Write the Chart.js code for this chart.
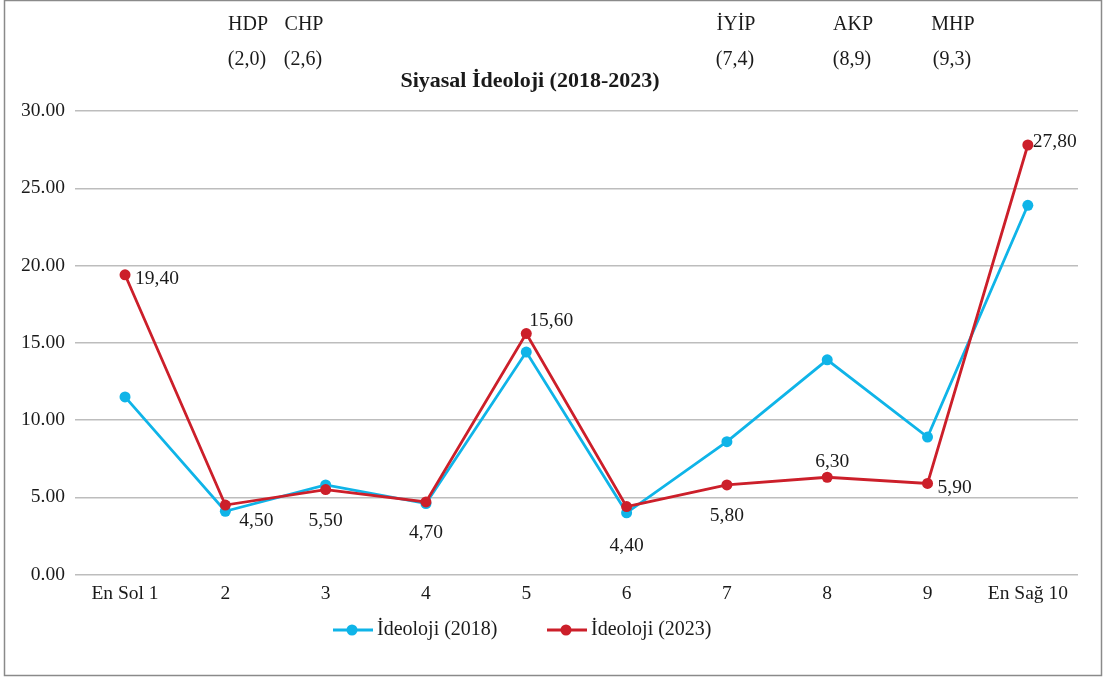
<!DOCTYPE html>
<html>
<head>
<meta charset="utf-8">
<script src="https://cdn.jsdelivr.net/npm/chart.js@4"></script>
<style>
  html, body { margin: 0; padding: 0; background: #fff; }
  #wrap { width: 1103px; height: 677px; position: relative; }
</style>
</head>
<body>
<div id="wrap"><canvas id="ideoloji"></canvas></div>
<script>
// veriler
const categories = ['En Sol 1', '2', '3', '4', '5', '6', '7', '8', '9', 'En Sağ 10'];
const ideoloji2018 = [11.5, 4.1, 5.8, 4.6, 14.4, 4.0, 8.6, 13.9, 8.9, 23.9];
const ideoloji2023 = [19.4, 4.5, 5.5, 4.7, 15.6, 4.4, 5.8, 6.3, 5.9, 27.8];
const seriesNames = ['İdeoloji (2018)', 'İdeoloji (2023)'];
const partyNames = ['HDP', 'CHP', 'İYİP', 'AKP', 'MHP'];
const partyScores = ['(2,0)', '(2,6)', '(7,4)', '(8,9)', '(9,3)'];
const chartTitle = 'Siyasal İdeoloji (2018-2023)';

const BLUE = '#0fb4e8';
const RED = '#cc1f2a';
const FONT = '"Liberation Serif", "DejaVu Serif", serif';

// where each 2023 label sits relative to its point
const labelPlace = ['right', 'belowRight', 'below', 'below', 'aboveRight', 'below', 'below', 'above', 'right', 'right'];
const partyX = [248, 304, 736, 853, 953];

const extras = {
    id: 'extras',
    beforeDraw(chart) {
        const c = chart.ctx;
        c.save();
        c.strokeStyle = '#8a8a8a';
        c.lineWidth = 1.5;
        c.strokeRect(4.5, 0.5, 1097, 675);
        c.restore();
    },
    afterDraw(chart) {
        const c = chart.ctx;
        c.save();
        c.fillStyle = '#1a1a1a';
        c.textAlign = 'center';
        c.textBaseline = 'middle';
        c.font = '20px ' + FONT;
        partyNames.forEach((p, i) => {
            c.fillText(p, partyX[i], 25);
            c.fillText(partyScores[i], partyX[i] - 1, 60);
        });
        c.font = 'bold 22px ' + FONT;
        c.fillText(chartTitle, 530, 81);

        // etiketler (2023)
        const meta = chart.getDatasetMeta(1);
        c.font = '19.5px ' + FONT;
        meta.data.forEach((pt, i) => {
            const txt = ideoloji2023[i].toFixed(2).replace('.', ',');
            const pl = labelPlace[i];
            let x = pt.x, y = pt.y;
            if (pl === 'right') { c.textAlign = 'left'; x += 10; y += 4; }
            else if (pl === 'belowRight') { c.textAlign = 'left'; x += 14; y += 16; }
            else if (pl === 'below') { c.textAlign = 'center'; y += 31; }
            else if (pl === 'aboveRight') { c.textAlign = 'left'; x += 3; y -= 13; }
            else if (pl === 'above') { c.textAlign = 'center'; x += 5; y -= 15; }
            if (i === 5) y += 8;
            if (i === 9) { x -= 5; y -= 7; }
            c.fillText(txt, x, y);
        });

        // legend
        const items = [
            { name: seriesNames[0], color: BLUE, x: 333 },
            { name: seriesNames[1], color: RED, x: 547 }
        ];
        const ly = 630;
        c.font = '20px ' + FONT;
        items.forEach(it => {
            c.strokeStyle = it.color;
            c.lineWidth = 3;
            c.beginPath();
            c.moveTo(it.x, ly);
            c.lineTo(it.x + 40, ly);
            c.stroke();
            c.fillStyle = it.color;
            c.beginPath();
            c.arc(it.x + 19, ly, 5.5, 0, Math.PI * 2);
            c.fill();
            c.fillStyle = '#1a1a1a';
            c.textAlign = 'left';
            c.fillText(it.name, it.x + 44, ly);
        });
        c.restore();
    }
};

const ctx = document.getElementById('ideoloji').getContext('2d');
const chart = new Chart(ctx, {
    type: 'line',
    data: {
        labels: categories,
        datasets: [
            {
                label: seriesNames[0],
                data: ideoloji2018,
                borderColor: BLUE,
                backgroundColor: BLUE,
                borderWidth: 2.8,
                pointRadius: 5.5,
                pointHoverRadius: 5.5,
                pointBorderWidth: 0,
                tension: 0,
                order: 2
            },
            {
                label: seriesNames[1],
                data: ideoloji2023,
                borderColor: RED,
                backgroundColor: RED,
                borderWidth: 2.8,
                pointRadius: 5.5,
                pointHoverRadius: 5.5,
                pointBorderWidth: 0,
                tension: 0,
                order: 1
            }
        ]
    },
    options: {
        responsive: true,
        maintainAspectRatio: false,
        animation: false,
        layout: { padding: { top: 111, left: 11, right: 25, bottom: 63 } },
        plugins: {
            legend: { display: false },
            title: { display: false },
            tooltip: { enabled: false }
        },
        scales: {
            x: {
                offset: true,
                grid: { display: false, drawTicks: false },
                border: { display: false },
                ticks: { color: '#1a1a1a', font: { family: FONT, size: 19.5 }, padding: 8, maxRotation: 0, autoSkip: false }
            },
            y: {
                min: 0,
                max: 30,
                grid: { color: '#bdbdbd', lineWidth: 1.4, drawTicks: false },
                border: { display: false },
                ticks: {
                    stepSize: 5,
                    color: '#1a1a1a',
                    padding: 10,
                    font: { family: FONT, size: 19.5 },
                    callback: v => v.toFixed(2)
                }
            }
        }
    },
    plugins: [extras]
});
</script>
</body>
</html>
